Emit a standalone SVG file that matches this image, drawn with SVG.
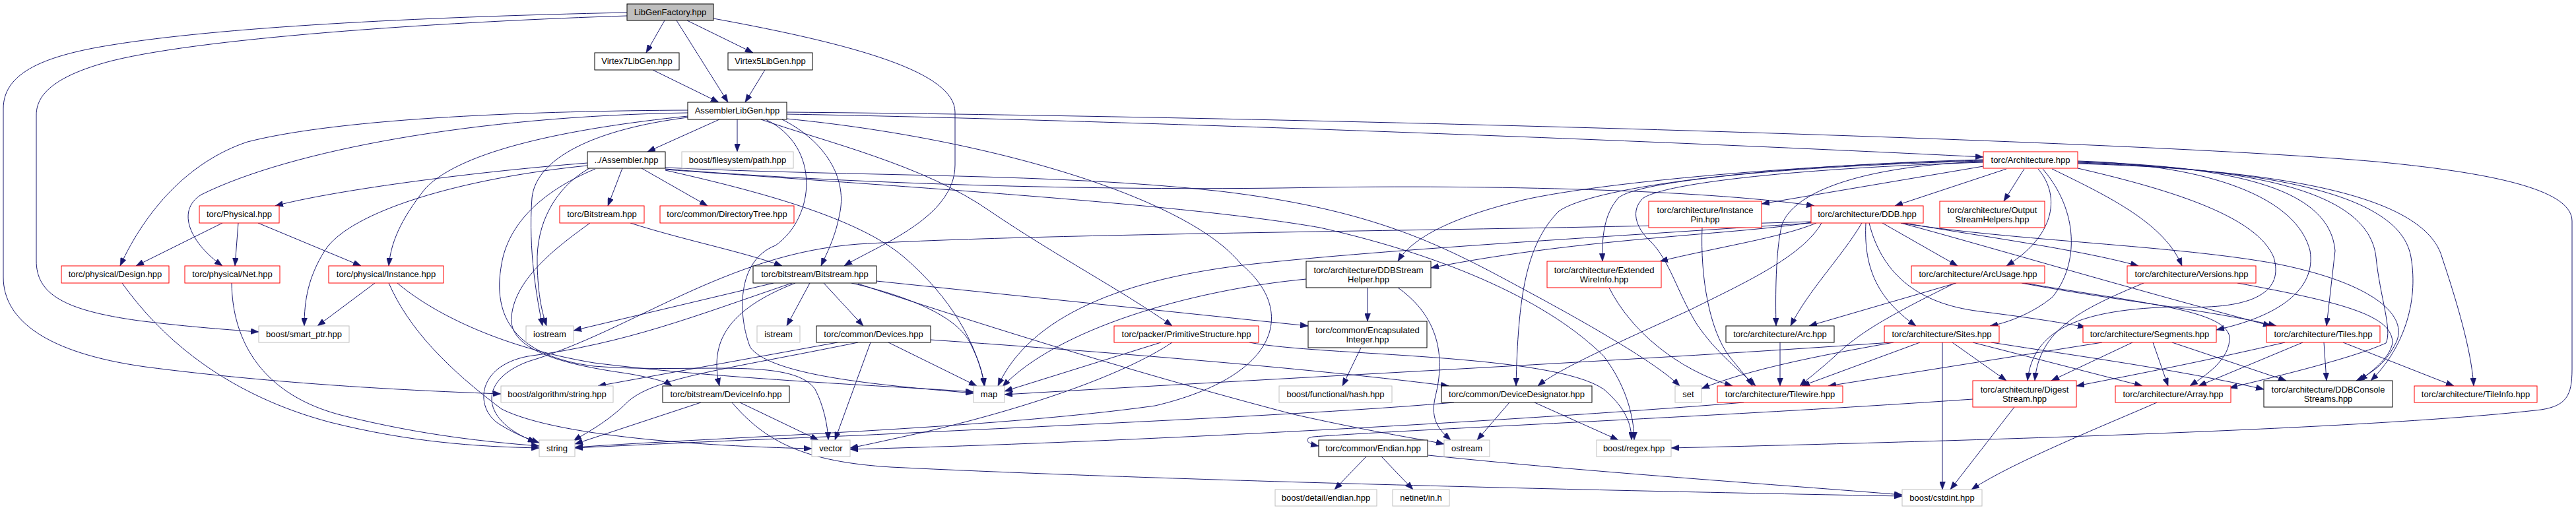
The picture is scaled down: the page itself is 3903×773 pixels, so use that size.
<svg xmlns="http://www.w3.org/2000/svg" width="3903" height="773" viewBox="0 0 3903 773">
<style>
.node rect{fill:#fff;stroke:#000;stroke-width:1}
.node.red rect{stroke:#ff0000}
.node.ext rect{stroke:#bfbfbf}
.node.root rect{fill:#bfbfbf;stroke:#000}
.node text{font-family:"Liberation Sans",Arial,Helvetica,sans-serif;font-size:13px;text-anchor:middle;fill:#000}
.edges path{fill:none;stroke:#191970;stroke-width:1;marker-end:url(#ah)}
</style>
<defs>
<marker id="ah" markerUnits="userSpaceOnUse" markerWidth="12" markerHeight="9" refX="12" refY="4.5" orient="auto"><path d="M0,0L12,4.5L0,9z" fill="#191970" stroke="#191970" stroke-width="0.5"/></marker>
</defs>
<rect width="3903" height="773" fill="#fff"/>
<g id="connectors" class="edges">
<path d="M1007,31 L979,80"/>
<path d="M1025,31 L1103,155"/>
<path d="M1041,31 L1141,80"/>
<path d="M950,24 C700,32 320,55 170,92 C70,118 55,150 55,175 L55,395 C55,445 95,470 210,486 C290,496 350,500 392,503"/>
<path d="M950,19 C620,26 330,42 170,68 C55,86 5,115 5,165 L5,420 C5,485 70,535 220,556 C420,582 620,592 759,597"/>
<path d="M1081,28 C1300,68 1447,110 1447,170 L1447,250 C1447,330 1330,372 1279,403"/>
<path d="M989,106 L1089,155"/>
<path d="M1159,106 L1129,155"/>
<path d="M1090,181 L981,230"/>
<path d="M1117,181 L1117,230"/>
<path d="M1042,167 C820,168 520,178 375,215 C285,245 220,320 182,403"/>
<path d="M1042,171 C720,176 440,228 305,295 C265,320 290,370 337,403"/>
<path d="M1042,176 C860,195 700,228 645,285 C605,335 592,370 589,403"/>
<path d="M1042,178 C900,196 812,240 806,300 C800,380 814,455 822,494"/>
<path d="M1192,173 C1600,180 2400,208 3005,238"/>
<path d="M1192,170 C1900,176 3200,210 3600,245 C3800,264 3897,292 3897,335 L3897,560 C3897,600 3888,615 3850,621 C3600,650 3000,668 2532,679"/>
<path d="M1185,181 C1252,215 1282,270 1273,320 C1266,360 1252,385 1244,403"/>
<path d="M1153,181 C1250,215 1400,250 1500,320 C1600,388 1700,440 1776,494"/>
<path d="M1160,181 C1245,222 1235,330 1175,372 C1115,395 1118,480 1137,527 C1172,572 1352,585 1475,596"/>
<path d="M1192,180 C1500,210 1800,300 1880,400 C1965,470 1940,570 1750,615 C1500,650 1100,662 871,678"/>
<path d="M943,255 L921,312"/>
<path d="M972,255 L1072,312"/>
<path d="M890,247 C700,262 500,290 417,312"/>
<path d="M890,251 C700,270 530,320 492,380 C467,420 461,455 461,494"/>
<path d="M893,255 C840,285 812,340 814,400 C815,450 822,475 828,494"/>
<path d="M902,256 C820,290 770,340 760,400 C745,480 780,540 900,555 C1050,567 1200,540 1235,590 C1248,615 1254,645 1255,667"/>
<path d="M1008,256 C1300,280 1700,290 2000,284 C2300,280 2600,290 2749,312"/>
<path d="M1008,254 C1300,268 1600,262 1850,290 C2100,320 2200,380 2330,450 C2450,515 2520,560 2545,585"/>
<path d="M1008,257 C1400,285 1800,310 2000,345 C2200,390 2350,460 2430,540 C2468,590 2476,640 2476,667"/>
<path d="M1008,258 C1150,290 1300,330 1370,390 C1440,450 1480,520 1492,585"/>
<path d="M955,338 C1040,365 1120,380 1185,403"/>
<path d="M894,338 C850,370 780,420 775,480 C770,530 850,552 950,566 C990,573 1008,578 1018,585"/>
<path d="M337,338 L206,403"/>
<path d="M361,338 L356,403"/>
<path d="M391,338 L547,403"/>
<path d="M185,429 C250,520 350,600 500,640 C620,670 720,677 817,679"/>
<path d="M351,429 C352,520 400,600 520,630 C640,660 740,670 817,676"/>
<path d="M568,429 L481,494"/>
<path d="M589,429 C620,500 680,560 760,620 C850,665 1100,677 1230,680"/>
<path d="M602,429 C650,470 750,525 900,550 C1100,575 1350,585 1475,594"/>
<path d="M1172,429 L869,501"/>
<path d="M1227,429 L1192,494"/>
<path d="M1248,429 L1308,494"/>
<path d="M1205,429 C1100,470 1075,520 1090,585"/>
<path d="M1200,429 C1050,480 950,520 800,540 C720,555 718,622 760,645 C785,660 800,665 817,671"/>
<path d="M1328,426 L1982,494"/>
<path d="M1300,430 C1450,480 1700,560 1960,628 C2080,655 2150,665 2188,673"/>
<path d="M1290,429 C1380,450 1450,480 1470,520 C1485,550 1490,570 1491,585"/>
<path d="M1062,610 L871,673"/>
<path d="M1121,610 L1240,667"/>
<path d="M1109,610 C1160,670 1220,700 1350,708 C1800,730 2500,745 2882,752"/>
<path d="M1269,519 L906,585"/>
<path d="M1300,519 C1100,560 990,572 950,610 C920,640 890,655 869,668"/>
<path d="M1319,519 L1265,667"/>
<path d="M1346,519 L1480,585"/>
<path d="M1410,515 C1700,535 2000,560 2195,585"/>
<path d="M1759,519 L1522,593"/>
<path d="M1776,519 C1700,570 1550,620 1400,655 C1340,668 1310,675 1288,679"/>
<path d="M1893,519 C2000,540 2350,535 2430,590 C2465,620 2472,645 2472,667"/>
<path d="M2072,436 L2072,487"/>
<path d="M2118,436 C2180,480 2190,540 2175,600 C2165,640 2185,655 2198,667"/>
<path d="M1979,423 C1800,440 1600,500 1519,586"/>
<path d="M2062,527 L2034,585"/>
<path d="M2287,610 L2238,667"/>
<path d="M2325,610 L2452,667"/>
<path d="M2203,610 C2000,628 1600,645 1300,660 C1100,668 950,675 871,679"/>
<path d="M2070,692 L2022,742"/>
<path d="M2093,692 L2141,742"/>
<path d="M2164,690 C2400,715 2700,735 2882,750"/>
<path d="M2579,345 C2576,420 2590,500 2620,540 C2640,565 2650,575 2655,585"/>
<path d="M2438,436 C2470,500 2540,560 2625,585"/>
<path d="M3005,252 L2669,309"/>
<path d="M3040,256 L2871,312"/>
<path d="M3067,256 L3036,305"/>
<path d="M3005,245 C2850,250 2722,282 2700,340 C2690,380 2690,450 2691,494"/>
<path d="M3005,243 C2700,250 2400,280 2300,305 C2200,330 2140,360 2118,396"/>
<path d="M3005,244 C2700,252 2480,275 2452,300 C2430,325 2427,360 2428,396"/>
<path d="M3005,242 C2700,250 2420,280 2362,320 C2312,370 2300,450 2297,585"/>
<path d="M3005,246 C2750,254 2530,275 2490,300 C2470,318 2478,345 2500,365 C2530,395 2540,440 2570,490 C2600,535 2640,565 2660,585"/>
<path d="M3088,256 C3125,300 3110,360 3040,403"/>
<path d="M3095,256 C3150,320 3150,400 3110,450 C3080,475 3040,490 3015,494"/>
<path d="M3109,256 C3200,300 3280,340 3306,403"/>
<path d="M3148,255 C3300,290 3420,330 3445,390 C3460,440 3420,470 3300,465 C3150,468 3080,500 3072,577"/>
<path d="M3148,244 C3350,250 3480,300 3500,380 C3510,440 3450,480 3358,500"/>
<path d="M3148,245 C3400,252 3530,290 3538,380 L3525,494"/>
<path d="M3148,246 C3450,255 3590,300 3600,390 C3606,450 3625,500 3615,520 C3560,545 3430,575 3378,588"/>
<path d="M3148,247 C3500,258 3640,310 3653,390 C3665,460 3640,530 3592,577"/>
<path d="M3148,248 C3550,260 3680,320 3700,390 C3730,480 3745,540 3748,585"/>
<path d="M2821,338 C2790,390 2740,440 2713,494"/>
<path d="M2827,338 C2824,400 2840,450 2903,494"/>
<path d="M2832,338 C2850,410 2900,460 3000,472 C3080,482 3130,490 3160,496"/>
<path d="M2852,338 L2966,403"/>
<path d="M2880,338 C3000,370 3200,430 3441,494"/>
<path d="M2880,338 C3050,365 3300,372 3450,400 C3600,430 3650,480 3630,520 C3615,550 3595,565 3570,577"/>
<path d="M2885,338 C3000,358 3150,378 3240,403"/>
<path d="M2760,338 C2730,390 2640,430 2560,470 C2450,520 2360,560 2330,585"/>
<path d="M2744,337 C2640,355 2400,360 2168,406"/>
<path d="M2752,338 C2700,360 2600,375 2515,396"/>
<path d="M2744,338 C2450,358 2100,378 1900,400 C1700,422 1560,480 1512,585"/>
<path d="M2744,336 C2300,350 1600,352 1300,370 C1100,385 960,500 800,548 C720,578 730,640 812,670"/>
<path d="M2964,429 L2741,494"/>
<path d="M2962,429 C2880,470 2820,500 2780,540 C2752,565 2738,575 2727,585"/>
<path d="M3063,429 C3200,455 3350,470 3449,494"/>
<path d="M3067,429 C3250,460 3370,470 3378,510 C3380,545 3340,570 3318,585"/>
<path d="M3248,429 C3150,470 3090,500 3083,577"/>
<path d="M3390,429 C3560,460 3625,480 3625,520 C3620,545 3590,565 3575,577"/>
<path d="M2865,519 C2500,545 2000,570 1522,598"/>
<path d="M2869,519 C2750,540 2650,560 2578,589"/>
<path d="M2909,519 L2730,585"/>
<path d="M2943,519 L2943,742"/>
<path d="M2958,519 L3040,577"/>
<path d="M2989,519 L3246,585"/>
<path d="M3017,519 C3150,540 3300,560 3430,590"/>
<path d="M3185,519 L2770,585"/>
<path d="M3231,519 L3108,577"/>
<path d="M3262,519 L3285,585"/>
<path d="M3291,519 L3464,577"/>
<path d="M3462,519 C3350,545 3250,565 3146,585"/>
<path d="M3489,519 L3331,585"/>
<path d="M3521,519 L3525,577"/>
<path d="M3550,519 L3718,585"/>
<path d="M2697,519 L2697,585"/>
<path d="M2642,610 C2400,630 1800,668 1288,681"/>
<path d="M3052,617 L2955,742"/>
<path d="M2989,605 C2600,632 2150,650 1990,662 C1975,664 1978,672 1998,676"/>
<path d="M3268,610 C3200,640 3050,700 2987,742"/>
</g>
<g id="n-LibGenFactory" class="node root"><rect x="950" y="6" width="131" height="25"/><text x="1015.5" y="22.5">LibGenFactory.hpp</text></g>
<g id="n-Virtex7LibGen" class="node"><rect x="901" y="80" width="128" height="26"/><text x="965" y="97">Virtex7LibGen.hpp</text></g>
<g id="n-Virtex5LibGen" class="node"><rect x="1103" y="80" width="128" height="26"/><text x="1167" y="97">Virtex5LibGen.hpp</text></g>
<g id="n-AssemblerLibGen" class="node"><rect x="1042" y="155" width="150" height="26"/><text x="1117" y="172">AssemblerLibGen.hpp</text></g>
<g id="n-Assembler" class="node"><rect x="890" y="230" width="118" height="25"/><text x="949" y="246.5">../Assembler.hpp</text></g>
<g id="n-path" class="node ext"><rect x="1033" y="230" width="169" height="25"/><text x="1117.5" y="246.5">boost/filesystem/path.hpp</text></g>
<g id="n-torcBitstream" class="node red"><rect x="848" y="312" width="128" height="26"/><text x="912" y="329">torc/Bitstream.hpp</text></g>
<g id="n-DirectoryTree" class="node red"><rect x="1000" y="312" width="203" height="26"/><text x="1101.5" y="329">torc/common/DirectoryTree.hpp</text></g>
<g id="n-Physical" class="node red"><rect x="302" y="312" width="121" height="26"/><text x="362.5" y="329">torc/Physical.hpp</text></g>
<g id="n-Design" class="node red"><rect x="93" y="403" width="163" height="26"/><text x="174.5" y="420">torc/physical/Design.hpp</text></g>
<g id="n-Net" class="node red"><rect x="280" y="403" width="144" height="26"/><text x="352" y="420">torc/physical/Net.hpp</text></g>
<g id="n-Instance" class="node red"><rect x="498" y="403" width="174" height="26"/><text x="585" y="420">torc/physical/Instance.hpp</text></g>
<g id="n-smart_ptr" class="node ext"><rect x="392" y="494" width="137" height="25"/><text x="460.5" y="510.5">boost/smart_ptr.hpp</text></g>
<g id="n-iostream" class="node ext"><rect x="797" y="494" width="72" height="25"/><text x="833" y="510.5">iostream</text></g>
<g id="n-algstring" class="node ext"><rect x="759" y="585" width="170" height="25"/><text x="844" y="601.5">boost/algorithm/string.hpp</text></g>
<g id="n-DeviceInfo" class="node"><rect x="1004" y="585" width="192" height="25"/><text x="1100" y="601.5">torc/bitstream/DeviceInfo.hpp</text></g>
<g id="n-string" class="node ext"><rect x="817" y="667" width="54" height="25"/><text x="844" y="683.5">string</text></g>
<g id="n-vector" class="node ext"><rect x="1230" y="667" width="58" height="25"/><text x="1259" y="683.5">vector</text></g>
<g id="n-bsBitstream" class="node"><rect x="1141" y="403" width="187" height="26"/><text x="1234.5" y="420">torc/bitstream/Bitstream.hpp</text></g>
<g id="n-istream" class="node ext"><rect x="1147" y="494" width="65" height="25"/><text x="1179.5" y="510.5">istream</text></g>
<g id="n-Devices" class="node"><rect x="1237" y="494" width="173" height="25"/><text x="1323.5" y="510.5">torc/common/Devices.hpp</text></g>
<g id="n-map" class="node ext"><rect x="1475" y="585" width="47" height="25"/><text x="1498.5" y="601.5">map</text></g>
<g id="n-PrimitiveStructure" class="node red"><rect x="1688" y="494" width="219" height="25"/><text x="1797.5" y="510.5">torc/packer/PrimitiveStructure.hpp</text></g>
<g id="n-hash" class="node ext"><rect x="1938" y="585" width="171" height="25"/><text x="2023.5" y="601.5">boost/functional/hash.hpp</text></g>
<g id="n-detailendian" class="node ext"><rect x="1932" y="742" width="154" height="25"/><text x="2009" y="758.5">boost/detail/endian.hpp</text></g>
<g id="n-DDBStreamHelper" class="node"><rect x="1979" y="396" width="189" height="40"/><text x="2073.5" y="413.5">torc/architecture/DDBStream</text><text x="2073.5" y="427.5">Helper.hpp</text></g>
<g id="n-ExtendedWireInfo" class="node red"><rect x="2344" y="396" width="173" height="40"/><text x="2430.5" y="413.5">torc/architecture/Extended</text><text x="2430.5" y="427.5">WireInfo.hpp</text></g>
<g id="n-EncapsulatedInteger" class="node"><rect x="1982" y="487" width="180" height="40"/><text x="2072" y="504.5">torc/common/Encapsulated</text><text x="2072" y="518.5">Integer.hpp</text></g>
<g id="n-DeviceDesignator" class="node"><rect x="2184" y="585" width="228" height="25"/><text x="2298" y="601.5">torc/common/DeviceDesignator.hpp</text></g>
<g id="n-set" class="node ext"><rect x="2538" y="585" width="40" height="25"/><text x="2558" y="601.5">set</text></g>
<g id="n-Endian" class="node"><rect x="1998" y="667" width="165" height="25"/><text x="2080.5" y="683.5">torc/common/Endian.hpp</text></g>
<g id="n-ostream" class="node ext"><rect x="2188" y="667" width="69" height="25"/><text x="2222.5" y="683.5">ostream</text></g>
<g id="n-regex" class="node ext"><rect x="2419" y="667" width="113" height="25"/><text x="2475.5" y="683.5">boost/regex.hpp</text></g>
<g id="n-netinet" class="node ext"><rect x="2110" y="742" width="86" height="25"/><text x="2153" y="758.5">netinet/in.h</text></g>
<g id="n-InstancePin" class="node red"><rect x="2498" y="305" width="171" height="40"/><text x="2583.5" y="322.5">torc/architecture/Instance</text><text x="2583.5" y="336.5">Pin.hpp</text></g>
<g id="n-Architecture" class="node red"><rect x="3005" y="230" width="143" height="25"/><text x="3076.5" y="246.5">torc/Architecture.hpp</text></g>
<g id="n-DDB" class="node red"><rect x="2744" y="312" width="170" height="26"/><text x="2829" y="329">torc/architecture/DDB.hpp</text></g>
<g id="n-OutputStreamHelpers" class="node red"><rect x="2939" y="305" width="159" height="40"/><text x="3018.5" y="322.5">torc/architecture/Output</text><text x="3018.5" y="336.5">StreamHelpers.hpp</text></g>
<g id="n-ArcUsage" class="node red"><rect x="2896" y="403" width="202" height="26"/><text x="2997" y="420">torc/architecture/ArcUsage.hpp</text></g>
<g id="n-Versions" class="node red"><rect x="3223" y="403" width="195" height="26"/><text x="3320.5" y="420">torc/architecture/Versions.hpp</text></g>
<g id="n-Arc" class="node"><rect x="2615" y="494" width="164" height="25"/><text x="2697" y="510.5">torc/architecture/Arc.hpp</text></g>
<g id="n-Sites" class="node red"><rect x="2855" y="494" width="174" height="25"/><text x="2942" y="510.5">torc/architecture/Sites.hpp</text></g>
<g id="n-Segments" class="node red"><rect x="3156" y="494" width="202" height="25"/><text x="3257" y="510.5">torc/architecture/Segments.hpp</text></g>
<g id="n-Tilewire" class="node red"><rect x="2602" y="585" width="190" height="25"/><text x="2697" y="601.5">torc/architecture/Tilewire.hpp</text></g>
<g id="n-DigestStream" class="node red"><rect x="2989" y="577" width="157" height="40"/><text x="3067.5" y="594.5">torc/architecture/Digest</text><text x="3067.5" y="608.5">Stream.hpp</text></g>
<g id="n-Array" class="node red"><rect x="3205" y="585" width="175" height="25"/><text x="3292.5" y="601.5">torc/architecture/Array.hpp</text></g>
<g id="n-cstdint" class="node ext"><rect x="2882" y="742" width="121" height="25"/><text x="2942.5" y="758.5">boost/cstdint.hpp</text></g>
<g id="n-Tiles" class="node red"><rect x="3434" y="494" width="172" height="25"/><text x="3520" y="510.5">torc/architecture/Tiles.hpp</text></g>
<g id="n-DDBConsoleStreams" class="node"><rect x="3430" y="577" width="195" height="40"/><text x="3527.5" y="594.5">torc/architecture/DDBConsole</text><text x="3527.5" y="608.5">Streams.hpp</text></g>
<g id="n-TileInfo" class="node red"><rect x="3658" y="585" width="186" height="25"/><text x="3751" y="601.5">torc/architecture/TileInfo.hpp</text></g>
</svg>
